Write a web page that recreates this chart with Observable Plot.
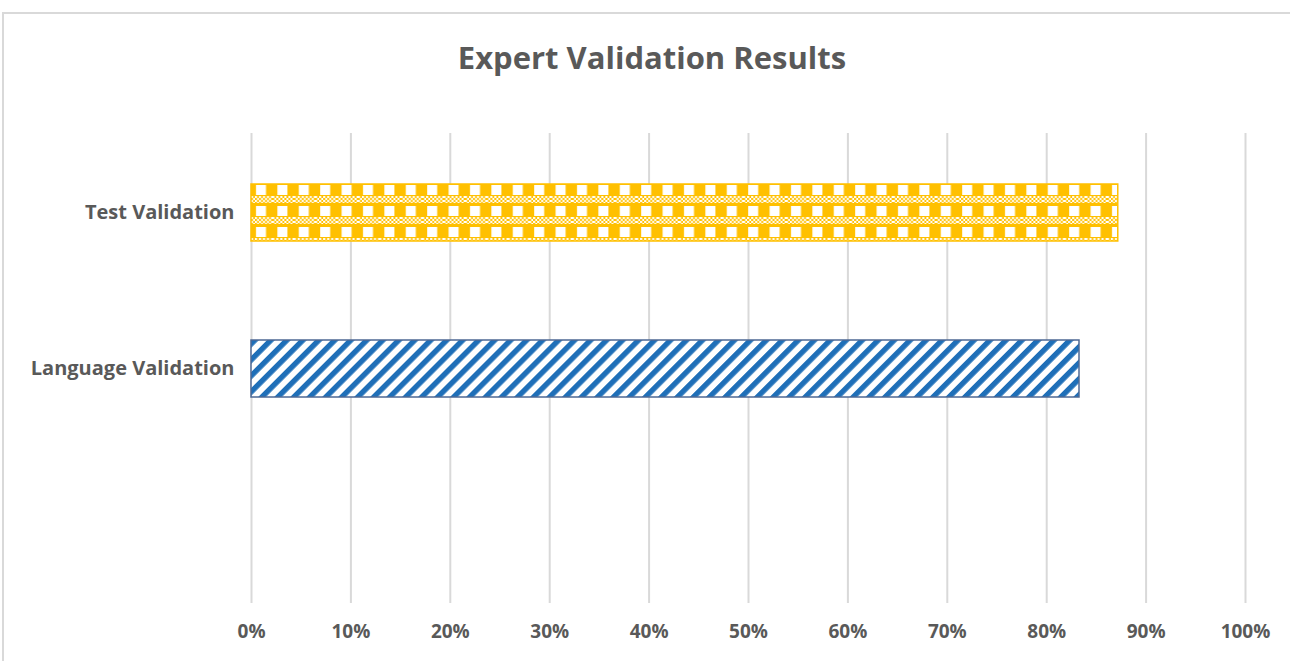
<!DOCTYPE html>
<html>
<head>
<meta charset="utf-8">
<script src="https://cdn.jsdelivr.net/npm/d3@7"></script>
<script src="https://cdn.jsdelivr.net/npm/@observablehq/plot@0.6"></script>
<style>
  html, body { margin: 0; padding: 0; background: #fff; }
  #wrap { position: relative; width: 1290px; height: 661px; overflow: hidden; }
  #frame { position: absolute; left: 2px; top: 12px; width: 1400px; height: 800px;
           border-top: 2px solid #d9d9d9; border-left: 2px solid #d9d9d9; }
  #title { position: absolute; left: 0; width: 1304px; top: 36px; text-align: center;
           font-family: "Open Sans", sans-serif; font-weight: 700; font-size: 31px; line-height: 42px; color: #595959; }
  #chart { position: absolute; left: 0; top: 0; }
</style>
</head>
<body>
<div id="wrap">
  <div id="frame"></div>
  <div id="chart"></div>
  <div id="title">Expert Validation Results</div>
</div>
<script>
const categories = ["Test Validation", "Language Validation", ""];
const values = [0.872, 0.833];
const xTicks = [0, 0.1, 0.2, 0.3, 0.4, 0.5, 0.6, 0.7, 0.8, 0.9, 1.0];

const data = values.map((v, i) => ({category: categories[i], value: v}));

const plot = Plot.plot({
  width: 1290,
  height: 661,
  marginLeft: 251,
  marginRight: 45,
  marginTop: 133,
  marginBottom: 58,
  style: {background: "transparent", fontFamily: "Open Sans, sans-serif"},
  x: {domain: [0, 1], ticks: xTicks, tickFormat: d3.format(".0%")},
  y: {domain: categories, paddingInner: 0.636, paddingOuter: 0.318, label: null},
  marks: [
    Plot.gridX(xTicks, {stroke: "#d9d9d9", strokeOpacity: 1, strokeWidth: 2}),
    Plot.barX(data.filter(d => d.category === categories[0]),
      {x: "value", y: "category", fill: "url(#pat-yellow)", stroke: "#FFC000", strokeWidth: 1.5}),
    Plot.barX(data.filter(d => d.category === categories[1]),
      {x: "value", y: "category", fill: "url(#pat-blue)", stroke: "#4d6894", strokeWidth: 1.5}),
    Plot.axisX(xTicks, {tickSize: 0, tickPadding: 21, tickFormat: d3.format(".0%"), label: null,
      fontSize: 19, fontWeight: "bold", fill: "#595959"}),
    Plot.axisY({tickSize: 0, tickPadding: 17, label: null, fontSize: 20, fontWeight: "bold", fill: "#595959"})
  ]
});

// SVG patterns for the bar fills
const svg = d3.select(plot);
const defs = svg.insert("defs", ":first-child");

// fine checker used inside the yellow pattern
const fine = defs.append("pattern").attr("id", "pat-fine")
  .attr("patternUnits", "userSpaceOnUse").attr("width", 4).attr("height", 4);
fine.append("rect").attr("width", 4).attr("height", 4).attr("fill", "#FFC000");
fine.append("rect").attr("width", 2).attr("height", 2).attr("fill", "#fff");
fine.append("rect").attr("x", 2).attr("y", 2).attr("width", 2).attr("height", 2).attr("fill", "#fff");

const yel = defs.append("pattern").attr("id", "pat-yellow")
  .attr("patternUnits", "userSpaceOnUse").attr("width", 21.4).attr("height", 21)
  .attr("x", 251).attr("y", 184);
yel.append("rect").attr("width", 21.4).attr("height", 21).attr("fill", "#FFC000");
yel.append("rect").attr("x", 5).attr("y", 1).attr("width", 10).attr("height", 10).attr("fill", "#fff");
yel.append("rect").attr("x", 0).attr("y", 12).attr("width", 21.4).attr("height", 7).attr("fill", "url(#pat-fine)");

const blu = defs.append("pattern").attr("id", "pat-blue")
  .attr("patternUnits", "userSpaceOnUse").attr("width", 11.3).attr("height", 40)
  .attr("patternTransform", "rotate(45)");
blu.append("rect").attr("width", 11.3).attr("height", 40).attr("fill", "#fff");
blu.append("rect").attr("width", 5.4).attr("height", 40).attr("fill", "#1f6fb8");

document.getElementById("chart").appendChild(plot);
</script>
</body>
</html>
